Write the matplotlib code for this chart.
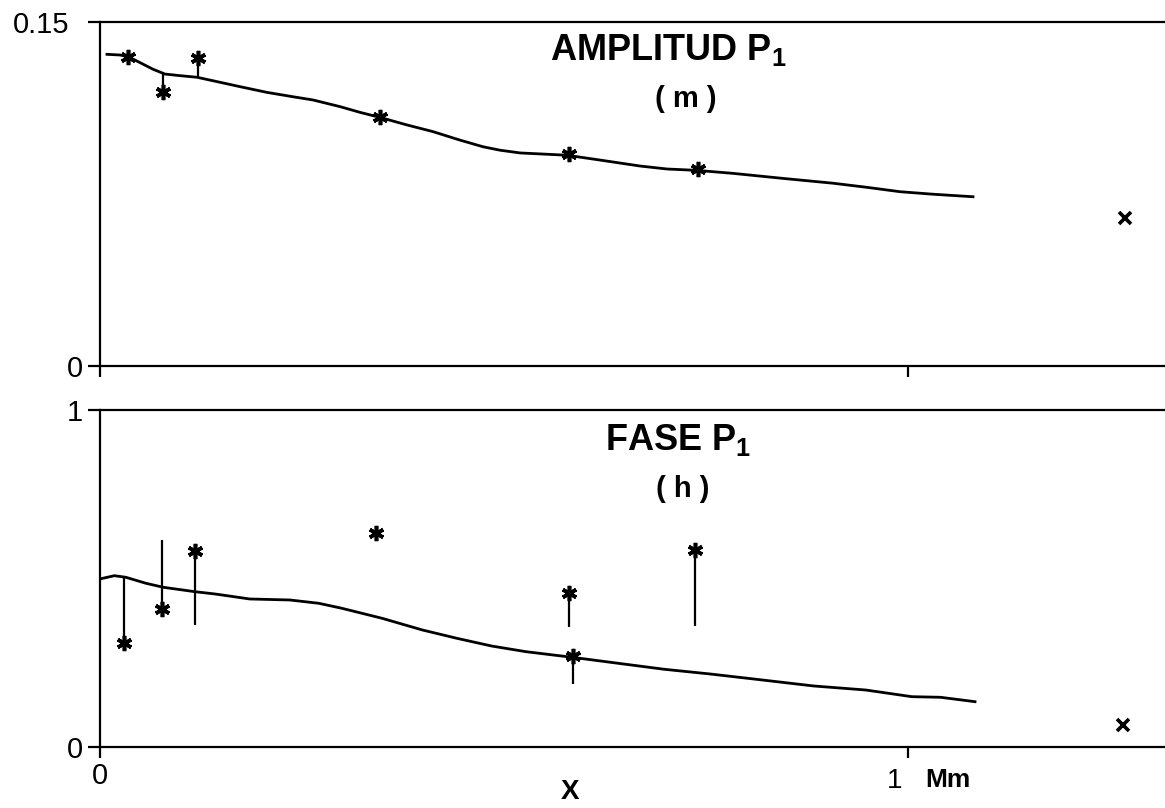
'''
Amplitud y fase de P1 a lo largo de X (Mm).
'''

import matplotlib.pyplot as plt
from matplotlib.transforms import ScaledTranslation

plt.rcParams['font.family'] = ['Liberation Sans', 'DejaVu Sans']

                    # Dados #
# curva do modelo (x em Mm)
x_curva_amp = [0.0087, 0.0248, 0.0347, 0.0495, 0.0656, 0.0804, 0.099, 0.12, 0.1448, 0.1733,
               0.2067, 0.2389, 0.2636, 0.297, 0.3218, 0.3465, 0.38, 0.4121, 0.4455, 0.474,
               0.495, 0.52, 0.578, 0.6188, 0.6683, 0.7017, 0.7389, 0.7834, 0.8453, 0.9072,
               0.9493, 0.9901, 1.031, 1.0804]
amp_curva = [0.1359, 0.1356, 0.1349, 0.1323, 0.1294, 0.1273, 0.1266, 0.1259, 0.124, 0.1218,
             0.1193, 0.1174, 0.116, 0.1131, 0.1106, 0.1084, 0.1051, 0.1022, 0.0985, 0.0956,
             0.0941, 0.0929, 0.0919, 0.0898, 0.0872, 0.0859, 0.0853, 0.084, 0.0818, 0.0797,
             0.0779, 0.076, 0.0749, 0.0738]

x_curva_fase = [0.0, 0.0036, 0.0178, 0.032, 0.057, 0.0784, 0.1176, 0.1425, 0.1853, 0.2351,
                0.2708, 0.2993, 0.3491, 0.399, 0.4417, 0.4845, 0.5272, 0.5843, 0.6412, 0.6983,
                0.7552, 0.8122, 0.8835, 0.9477, 1.0046, 1.0402, 1.0829]
fase_curva = [0.4985, 0.5006, 0.5083, 0.5036, 0.4857, 0.4739, 0.4608, 0.454, 0.4392, 0.4362,
              0.4264, 0.4116, 0.3819, 0.3472, 0.3225, 0.2997, 0.2828, 0.2662, 0.2484, 0.2306,
              0.2166, 0.2009, 0.181, 0.1691, 0.1493, 0.1475, 0.1344]

# observacoes (asteriscos) e barras verticais
x_obs_amp = [0.0347, 0.0776, 0.1209, 0.3465, 0.5804, 0.7401]
amp_obs = [0.1349, 0.1196, 0.1342, 0.1084, 0.0924, 0.0859]
amp_barra_ini = [None, 0.1196, 0.1259, None, None, None]
amp_barra_fim = [None, 0.1273, 0.1342, None, None, None]

x_obs_fase = [0.0299, 0.0763, 0.1176, 0.3416, 0.5804, 0.5854, 0.7364]
fase_obs = [0.31, 0.4086, 0.5816, 0.635, 0.456, 0.27, 0.5846]
fase_barra_ini = [0.31, 0.4086, 0.362, None, 0.357, 0.187, 0.359]
fase_barra_fim = [0.501, 0.614, 0.5816, None, 0.456, 0.27, 0.5846]

# ponto isolado (x)
x_ponto = [1.2686, 1.266]
y_ponto = [0.0645, 0.065]


def desenha_painel(ax, xc, yc, xo, yo, b_ini, b_fim, xp, yp, ymax):
    ax.plot(xc, yc, color='black', lw=2.0)
    bx = [x for x, a in zip(xo, b_ini) if a is not None]
    bi = [a for a in b_ini if a is not None]
    bf = [b for b in b_fim if b is not None]
    ax.vlines(bx, bi, bf, color='black', lw=1.6)
    ax.plot(xo, yo, ls='none', marker=(6, 2, 0), ms=11, mew=2.6, color='black')
    ax.plot([xp], [yp], ls='none', marker='x', ms=8, mew=2.6, color='black')

    ax.set_xlim(0, 1.318)
    ax.set_ylim(0, ymax)
    ax.spines['right'].set_visible(False)
    for s in ['left', 'bottom', 'top']:
        ax.spines[s].set_linewidth(1.6)
    ax.set_xticks([0, 1])
    ax.set_yticks([0, ymax])
    ax.tick_params(axis='y', direction='out', length=8.5, width=1.6, labelsize=21, pad=4)
    ax.tick_params(axis='x', direction='out', length=8, width=1.6, labelsize=21, pad=3)


fig = plt.figure(figsize=(11.65, 8.08), dpi=100)
ax1 = fig.add_axes([0.0858, 0.547, 0.9142, 0.4258])
ax2 = fig.add_axes([0.0858, 0.0755, 0.9142, 0.4171])

                    # Amplitud #
desenha_painel(ax1, x_curva_amp, amp_curva, x_obs_amp, amp_obs, amp_barra_ini, amp_barra_fim,
               x_ponto[0], y_ponto[0], 0.15)
ax1.set_xticklabels(['', ''])
ax1.set_yticklabels(['0', '0.15'])
lbl = ax1.get_yticklabels()[1]
lbl.set_transform(lbl.get_transform() + ScaledTranslation(-0.13, 0, fig.dpi_scale_trans))
ax1.text(0.4225, 0.8895, r'AMPLITUD P$_\mathregular{1}$', transform=ax1.transAxes,
         fontsize=26, fontweight='bold', ha='left', va='baseline')
ax1.text(0.550, 0.753, '( m )', transform=ax1.transAxes, fontsize=21, fontweight='bold',
         ha='center', va='baseline')

                    # Fase #
desenha_painel(ax2, x_curva_fase, fase_curva, x_obs_fase, fase_obs, fase_barra_ini, fase_barra_fim,
               x_ponto[1], y_ponto[1], 1)
ax2.set_xticklabels(['0', ''])
ax2.set_yticklabels(['0', '1'])
ax2.text(0.474, 0.8813, r'FASE P$_\mathregular{1}$', transform=ax2.transAxes,
         fontsize=26, fontweight='bold', ha='left', va='baseline')
ax2.text(0.547, 0.742, '( h )', transform=ax2.transAxes, fontsize=21, fontweight='bold',
         ha='center', va='baseline')
ax2.annotate('1', xy=(1, 0), xycoords=('data', 'axes fraction'), xytext=(-10, -15),
             textcoords='offset points', fontsize=20, ha='center', va='top')
ax2.annotate('Mm', xy=(1, 0), xycoords=('data', 'axes fraction'), xytext=(29, -15),
             textcoords='offset points', fontsize=19, fontweight='bold', ha='center', va='top')
ax2.set_xlabel('X', fontsize=20, fontweight='bold')
ax2.xaxis.set_label_coords(0.441, -0.172)
ax2.xaxis.label.set_va('bottom')

fig.savefig('out.png', dpi=100)
